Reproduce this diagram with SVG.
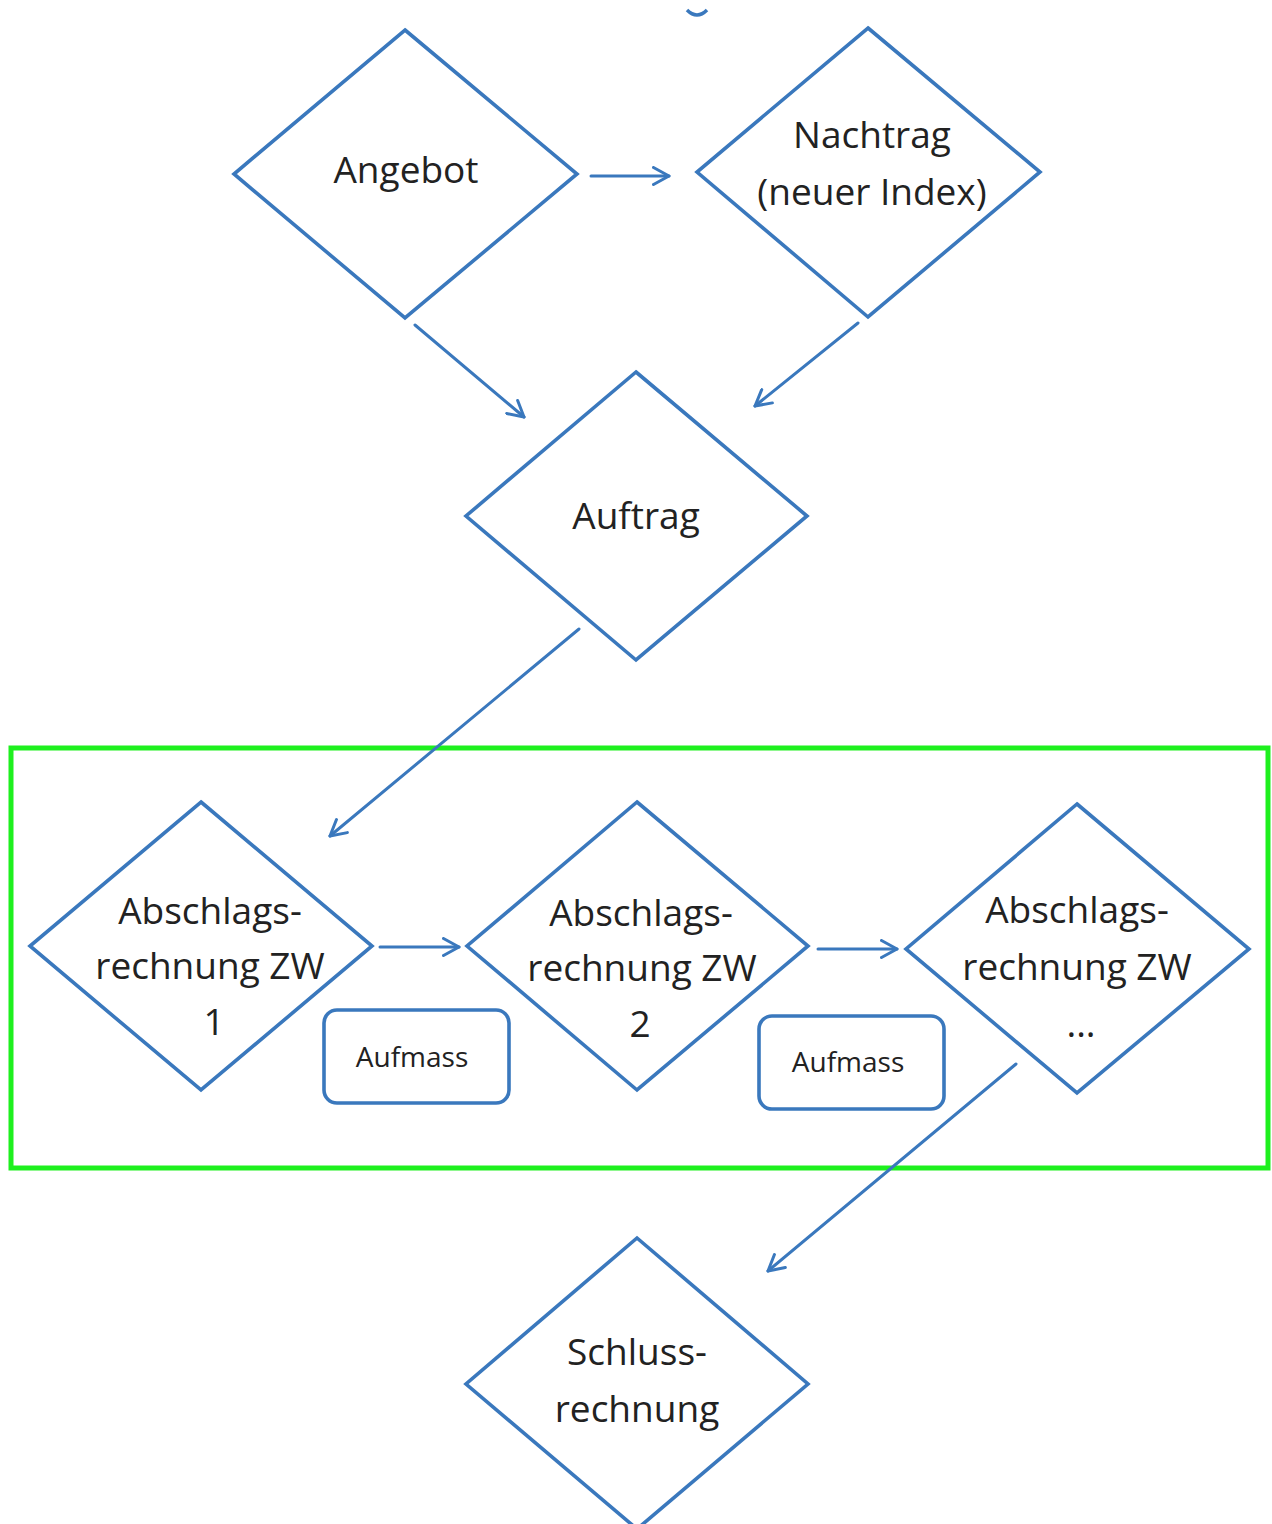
<svg xmlns="http://www.w3.org/2000/svg" width="1272" height="1524" viewBox="0 0 1272 1524">
<defs>
<style>
.dia{fill:#fff;stroke:#3a78bd;stroke-width:3.6;stroke-linejoin:miter}
.box{fill:#fff;stroke:#3a78bd;stroke-width:3.6}
.t{font-family:"Open Sans","Noto Sans","DejaVu Sans",sans-serif;font-size:37px;fill:#222;text-anchor:middle}
.s{font-family:"Open Sans","Noto Sans","DejaVu Sans",sans-serif;font-size:28px;fill:#222;text-anchor:middle}
.c{fill:none;stroke:#3a78bd;stroke-width:3;stroke-linecap:round}
</style>
<marker id="ah" viewBox="0 0 20 20" refX="17.5" refY="10" markerWidth="20" markerHeight="20" markerUnits="userSpaceOnUse" orient="auto">
<path d="M2,1.5 L17.5,10 L2,18.5" fill="none" stroke="#3a78bd" stroke-width="3" stroke-linecap="round" stroke-linejoin="round"/>
</marker>
</defs>
<rect width="1272" height="1524" fill="#fff"/>
<path d="M687,10 Q697,20 707,10" fill="none" stroke="#3a78bd" stroke-width="3.5"/>
<rect id="frame" x="11" y="748" width="1257" height="420" fill="none" stroke="#1ef01e" stroke-width="5"/>
<g id="connectors">
<line class="c" x1="591" y1="176" x2="669" y2="176" marker-end="url(#ah)"/>
<line class="c" x1="415" y1="325" x2="524" y2="417" marker-end="url(#ah)"/>
<line class="c" x1="858" y1="323" x2="755" y2="406" marker-end="url(#ah)"/>
<line class="c" x1="579" y1="629" x2="330" y2="836" marker-end="url(#ah)"/>
<line class="c" x1="380" y1="947" x2="459" y2="947" marker-end="url(#ah)"/>
<line class="c" x1="818" y1="949" x2="897" y2="949" marker-end="url(#ah)"/>
<line class="c" x1="1016" y1="1064" x2="768" y2="1271" marker-end="url(#ah)"/>
</g>
<g id="angebot">
<polygon class="dia" points="405,30 577,174 405,318 234,174"/>
<text class="t" x="406" y="183">Angebot</text>
</g>
<g id="nachtrag">
<polygon class="dia" points="868,28 1040,172 868,317 697,172"/>
<text class="t" x="872" y="148">Nachtrag</text>
<text class="t" x="872" y="205">(neuer Index)</text>
</g>
<g id="auftrag">
<polygon class="dia" points="636,372 807,516 636,660 466,516"/>
<text class="t" x="636" y="529">Auftrag</text>
</g>
<g id="abschlag1">
<polygon class="dia" points="201,802 372,946 201,1090 30,946"/>
<text class="t" x="210" y="924">Abschlags-</text>
<text class="t" x="210" y="979">rechnung ZW</text>
<text class="t" x="214" y="1035">1</text>
</g>
<g id="abschlag2">
<polygon class="dia" points="637,802 808,946 637,1090 467,946"/>
<text class="t" x="641" y="926">Abschlags-</text>
<text class="t" x="642" y="981">rechnung ZW</text>
<text class="t" x="640" y="1037">2</text>
</g>
<g id="abschlag3">
<polygon class="dia" points="1077,804 1249,949 1077,1093 906,949"/>
<text class="t" x="1077" y="923">Abschlags-</text>
<text class="t" x="1077" y="980">rechnung ZW</text>
<text class="t" x="1081" y="1037">...</text>
</g>
<g id="aufmass1">
<rect class="box" x="324" y="1010" width="185" height="93" rx="13"/>
<text class="s" x="412" y="1067">Aufmass</text>
</g>
<g id="aufmass2">
<rect class="box" x="759" y="1016" width="185" height="93" rx="13"/>
<text class="s" x="848" y="1072">Aufmass</text>
</g>
<g id="schluss">
<polygon class="dia" points="637,1238 808,1384 637,1529 466,1384"/>
<text class="t" x="637" y="1365">Schluss-</text>
<text class="t" x="637" y="1422">rechnung</text>
</g>
</svg>
